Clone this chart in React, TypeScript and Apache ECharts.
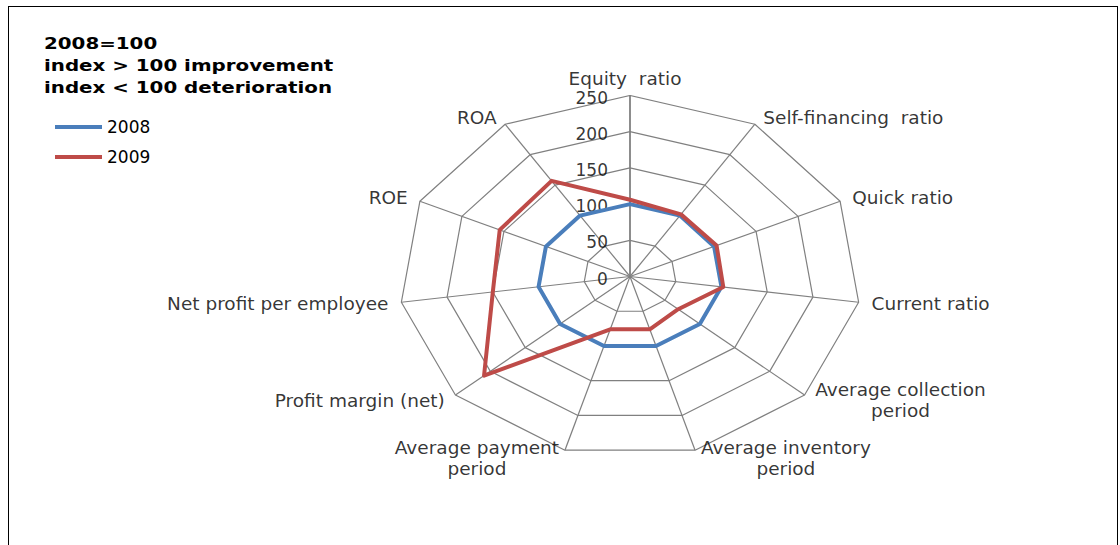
import React, { useEffect, useRef } from "react";
import * as echarts from "echarts";

const categories = [
  "Equity  ratio",
  "Self-financing  ratio",
  "Quick ratio",
  "Current ratio",
  "Average collection\nperiod",
  "Average inventory\nperiod",
  "Average payment\nperiod",
  "Profit margin (net)",
  "Net profit per employee",
  "ROE",
  "ROA",
];
const values2008 = [100, 100, 100, 100, 100, 100, 100, 100, 100, 100, 100];
const values2009 = [106, 102, 103, 102, 69, 76, 76, 209, 150, 155, 157];
const seriesNames = ["2008", "2009"];
const ringValues = [50, 100, 150, 200, 250];
const tickValues = [0, 50, 100, 150, 200, 250];
const maxValue = 250;
const titleLines = ["2008=100", "index > 100 improvement", "index < 100 deterioration"];

const FONT = "'DejaVu Sans', Verdana, sans-serif";
const GRID = "#808080";

function angleOf(k: number) {
  return (2 * Math.PI * k) / categories.length;
}
function polar(v: number, k: number): [number, number] {
  const a = angleOf(k);
  return [v * Math.sin(a), v * Math.cos(a)];
}
function closedPolygon(vals: number[]) {
  const pts = vals.map((v, k) => polar(v, k));
  pts.push(pts[0]);
  return pts;
}

export default function App() {
  const ref = useRef<HTMLDivElement>(null);
  useEffect(() => {
    if (!ref.current) return;
    const chart = echarts.init(ref.current, undefined, { renderer: "svg" });

    const ringSeries = ringValues.map((r) => ({
      type: "line",
      name: "ring" + r,
      silent: true,
      symbol: "none",
      data: closedPolygon(categories.map(() => r)),
      lineStyle: { color: GRID, width: 1.2 },
      z: 1,
    }));

    const spokeSeries = {
      type: "lines",
      coordinateSystem: "cartesian2d",
      silent: true,
      data: categories.map((_, k) => ({
        coords: [[0, 0], polar(maxValue, k)],
        lineStyle: { width: k === 0 ? 1.8 : 1.2 },
      })),
      lineStyle: { color: GRID, width: 1.2, opacity: 1 },
      z: 1,
    };

    const tickSeries = {
      type: "scatter",
      silent: true,
      symbolSize: 0.1,
      itemStyle: { color: "transparent" },
      data: tickValues.map((t) => [0, t]),
      label: {
        show: true,
        position: "left",
        distance: 22,
        offset: [0, 2],
        formatter: (p: any) => String(p.value[1]),
        fontFamily: FONT,
        fontSize: 17,
        color: "#000",
      },
      z: 3,
    };

    const catLabelSeries = {
      type: "scatter",
      silent: true,
      symbolSize: 0.1,
      itemStyle: { color: "transparent" },
      data: categories.map((c, k) => {
        const a = angleOf(k);
        const s = Math.sin(a);
        const co = Math.cos(a);
        let label: any;
        if (Math.abs(s) < 0.05) {
          label = { position: "top", distance: 6, offset: [-5, 0] };
        } else {
          label = {
            position: s > 0 ? "right" : "left",
            distance: 3 + 10 * Math.abs(s),
            offset: [0, -8 * co],
          };
        }
        return { value: polar(maxValue, k), name: c, label };
      }),
      label: {
        show: true,
        color: "#000",
        formatter: (p: any) =>
          String(p.name)
            .split("\n")
            .map((l) => "{c|" + l + "}")
            .join("\n"),
        rich: {
          c: {
            align: "center",
            fontFamily: FONT,
            fontSize: 18.5,
            lineHeight: 21,
            color: "#000",
          },
        },
      },
      z: 3,
    };

    const dataSeries = [values2008, values2009].map((vals, i) => ({
      type: "line",
      name: seriesNames[i],
      symbol: "none",
      data: closedPolygon(vals),
      lineStyle: {
        color: i === 0 ? "#4A7EBB" : "#BE4B48",
        width: 4,
        cap: "round",
        join: "round",
      },
      itemStyle: { color: i === 0 ? "#4A7EBB" : "#BE4B48" },
      z: 4 + i,
    }));

    chart.setOption({
      animation: false,
      backgroundColor: "#fff",
      grid: { left: 390, top: 88.5, width: 462, height: 362 },
      xAxis: { type: "value", min: -maxValue, max: maxValue, show: false },
      yAxis: { type: "value", min: -maxValue, max: maxValue, show: false },
      legend: {
        data: seriesNames.map((n) => ({ name: n, icon: "rect" })),
        orient: "vertical",
        left: 41,
        top: 106.5,
        itemWidth: 47,
        itemHeight: 4,
        itemGap: 13,
        textStyle: { fontFamily: FONT, fontSize: 17, color: "#000" },
      },
      graphic: [
        {
          type: "text",
          x: 35,
          y: 25,
          scaleX: 1.28,
          style: {
            text: titleLines.join("\n"),
            font: "bold 15.5px 'DejaVu Sans', Verdana, sans-serif",
            lineHeight: 22,
            fill: "#000",
            verticalAlign: "top",
          },
        },
      ],
      series: [...ringSeries, spokeSeries, ...dataSeries, tickSeries, catLabelSeries],
    });
    return () => chart.dispose();
  }, []);

  return (
    <div style={{ position: "fixed", inset: 0, overflow: "hidden", background: "#fff" }}>
      <div
        style={{
          position: "absolute",
          left: 8,
          top: 6,
          width: 1110,
          height: 600,
          border: "1px solid #000",
          boxSizing: "border-box",
        }}
      >
        <div ref={ref} style={{ position: "absolute", left: 0, top: 0, width: 1108, height: 598 }} />
      </div>
    </div>
  );
}
